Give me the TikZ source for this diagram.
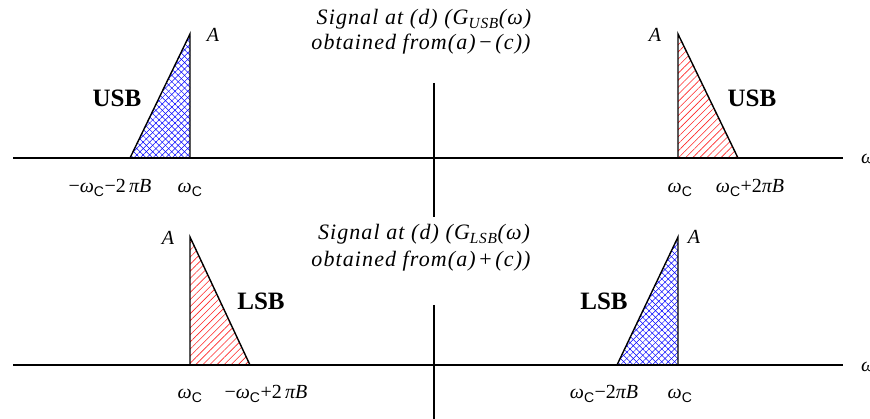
\documentclass[tikz,border=0pt]{standalone}
\usepackage{fontspec}
\setmainfont{Liberation Serif}
\newfontfamily\subsf{Liberation Sans}
\usetikzlibrary{patterns.meta}
\newcommand{\wc}{\textit{ω}\textsubscript{\subsf C}}
\tikzset{
  axisline/.style={line width=1.5pt},
  tri/.style={line width=1.4pt},
  bluehatch/.style={pattern={Lines[angle=45,distance=4.5pt,line width=0.5pt]},pattern color=blue},
  bluehatchb/.style={pattern={Lines[angle=-45,distance=4.5pt,line width=0.5pt]},pattern color=blue},
  redhatch/.style={pattern={Lines[angle=45,distance=5pt,line width=0.6pt]},pattern color=red!85},
  amp/.style={font=\fontsize{20}{23}\selectfont\itshape,anchor=base,inner sep=0pt},
  band/.style={font=\fontsize{25}{28}\selectfont\bfseries,anchor=base,inner sep=0pt},
  freq/.style={font=\fontsize{20}{23}\selectfont,anchor=base,inner sep=0pt},
  ttl/.style={font=\fontsize{22}{26}\selectfont\itshape\addfontfeatures{LetterSpace=5},anchor=base,inner sep=0pt},
  wlab/.style={font=\fontsize{20}{23}\selectfont\itshape,anchor=base west,inner sep=0pt}
}
\begin{document}
\begin{tikzpicture}[x=1pt,y=-1pt]
\useasboundingbox (0,0) rectangle (870,419);
% coordinates
\coordinate (ta1) at (13,158);  \coordinate (ta2) at (843,158);
\coordinate (ba1) at (13,365);  \coordinate (ba2) at (843,365);
\coordinate (tv1) at (434,83);  \coordinate (tv2) at (434,217);
\coordinate (bv1) at (434,305); \coordinate (bv2) at (434,419);
% top-left USB triangle
\coordinate (p1) at (130,158); \coordinate (p2) at (190,34); \coordinate (p3) at (190,158);
% top-right USB triangle
\coordinate (q1) at (678,158); \coordinate (q2) at (678,34); \coordinate (q3) at (738,158);
% bottom-left LSB triangle
\coordinate (r1) at (190,365); \coordinate (r2) at (190,237); \coordinate (r3) at (250,365);
% bottom-right LSB triangle
\coordinate (s1) at (617,365); \coordinate (s2) at (678,237); \coordinate (s3) at (678,365);

\fill[bluehatch] (p1) -- (p2) -- (p3) -- cycle;
\fill[bluehatchb] (p1) -- (p2) -- (p3) -- cycle;
\fill[redhatch] (q1) -- (q2) -- (q3) -- cycle;
\fill[redhatch] (r1) -- (r2) -- (r3) -- cycle;
\fill[bluehatch] (s1) -- (s2) -- (s3) -- cycle;
\fill[bluehatchb] (s1) -- (s2) -- (s3) -- cycle;

\draw[axisline] (ta1) -- (ta2);
\draw[axisline] (ba1) -- (ba2);
\draw[axisline] (tv1) -- (tv2);
\draw[axisline] (bv1) -- (bv2);

\draw[tri] (p1) -- (p2) -- (p3);
\draw[tri] (q3) -- (q2) -- (q1);
\draw[tri] (r3) -- (r2) -- (r1);
\draw[tri] (s1) -- (s2) -- (s3);

% titles
\node[ttl] (t1) at (424,25) {Signal at (d) (G\textsubscript{USB}(ω)};
\node[ttl] (t2) at (421,50) {obtained from(a)\,\textup{−}\,(c))};
\node[ttl] (t3) at (424,240) {Signal at (d) (G\textsubscript{LSB}(ω)};
\node[ttl] (t4) at (421,267) {obtained from(a)\,\textup{+}\,(c))};

% amplitudes
\node[amp] (a1) at (213,42) {A};
\node[amp] (a2) at (655,42) {A};
\node[amp] (a3) at (168,245) {A};
\node[amp] (a4) at (694,244) {A};

% band labels
\node[band] (u1) at (117,107) {USB};
\node[band] (u2) at (752,107) {USB};
\node[band] (l1) at (261,310) {LSB};
\node[band] (l2) at (604,310) {LSB};

% frequency labels
\node[freq] (f1) at (110,193) {−\wc−2\,\textit{πB}};
\node[freq] (f2) at (190,193) {\wc};
\node[freq] (f3) at (680,193) {\wc};
\node[freq] (f4) at (750,193) {\wc+2\textit{πB}};
\node[freq] (f5) at (190,399) {\wc};
\node[freq] (f6) at (266,399) {−\wc+2\,\textit{πB}};
\node[freq] (f7) at (604,399) {\wc−2\textit{πB}};
\node[freq] (f8) at (680,399) {\wc};

% axis labels
\node[wlab] (w1) at (861,164) {ω};
\node[wlab] (w2) at (861,372) {ω};
\end{tikzpicture}
\end{document}
